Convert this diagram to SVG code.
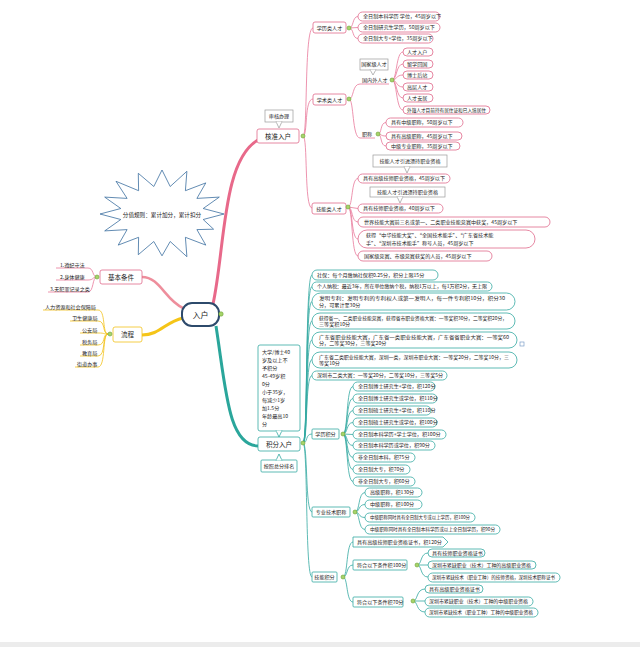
<svg xmlns="http://www.w3.org/2000/svg" width="640" height="647" viewBox="0 0 640 647">
<defs>
<style>
text{font-family:"Noto Sans CJK SC","Noto Sans",sans-serif;fill:#222;font-size:5.1px}
.big{font-size:6.5px}
.ctr{font-size:8px}
.pp{fill:#fff;stroke:#e06a8b;stroke-width:0.8}
.pt{fill:#fff;stroke:#35aaa2;stroke-width:0.8}
.cp{fill:none;stroke:#e8789a;stroke-width:0.8}
.ct{fill:none;stroke:#35aaa2;stroke-width:0.8}
.cy{fill:none;stroke:#f2c21b;stroke-width:0.8}
.co{fill:#fff;stroke:#9a9a9a;stroke-width:0.7}
.dot{fill:#a6d46a;stroke:#6c9f34;stroke-width:0.6}
</style>
</defs>
<rect width="640" height="647" fill="#fff"/>
<rect x="0" y="642" width="640" height="5" fill="#ececec"/>

<g id="connectors">
<path d="M213 304 C225 250 222 160 258 140" fill="none" stroke="#e8698a" stroke-width="3"/>
<path d="M216 326 C226 390 228 445 258 446" fill="none" stroke="#2aa69b" stroke-width="3"/>
<path d="M183 308 C165 300 160 277 142 277" fill="none" stroke="#ee8e9c" stroke-width="2.5"/>
<path d="M183 318 C165 322 160 335 142 335" fill="none" stroke="#f5c518" stroke-width="3"/>
<path class="cp" d="M97 277 C92 277 94 268 88 268 L56 268"/>
<path class="cp" d="M97 277 C92 277 94 280 88 280 L56 280"/>
<path class="cp" d="M97 277 C92 277 94 292 88 292 L48 292"/>
<path class="cy" d="M108 334 C102 334 106 310 98 310 L43 310"/>
<path class="cy" d="M108 334 C102 334 106 321 98 321 L70 321"/>
<path class="cy" d="M108 334 C102 334 106 333 98 333 L80 333"/>
<path class="cy" d="M108 334 C102 334 106 345 98 345 L80 345"/>
<path class="cy" d="M108 334 C102 334 106 356 98 356 L80 356"/>
<path class="cy" d="M108 334 C102 334 106 367 98 367 L75 367"/>
<path class="cp" d="M303 136 C308 136 304 28 313 28"/>
<path class="cp" d="M303 136 C308 136 304 99 313 99"/>
<path class="cp" d="M303 136 C308 136 304 208 312 208"/>
<path class="cp" d="M349 28 C354 28 352 16.5 358 16.5"/>
<path class="cp" d="M349 28 L358 27.5"/>
<path class="cp" d="M349 28 C354 28 352 38.5 358 38.5"/>
<path class="cp" d="M349 99 C354 99 352 84 360 84"/>
<path class="cp" d="M349 99 C354 99 352 138 360 138"/>
<path class="cp" d="M392 80 C397 80 396 52 403 52"/>
<path class="cp" d="M392 80 C397 80 396 64 403 64"/>
<path class="cp" d="M392 80 C397 80 396 75 403 75"/>
<path class="cp" d="M392 80 C397 80 396 87 403 87"/>
<path class="cp" d="M392 80 C397 80 396 98 403 98"/>
<path class="cp" d="M392 80 C397 80 396 110 403 110"/>
<path class="cp" d="M378 134 C382 134 380 122.5 386 122.5"/>
<path class="cp" d="M378 134 C382 134 380 136 386 136"/>
<path class="cp" d="M378 134 C382 134 380 146 386 146"/>
<path class="cp" d="M348 207 C353 207 351 178.5 358 178.5"/>
<path class="cp" d="M348 207 L358 208.5"/>
<path class="cp" d="M348 207 C353 207 351 222 358 222"/>
<path class="cp" d="M348 207 C353 207 351 239 358 239"/>
<path class="cp" d="M348 207 C353 207 351 256 358 256"/>
<path class="ct" d="M303 443 C308 443 305 275 312 275"/>
<path class="ct" d="M303 443 C308 443 305 286.5 312 286.5"/>
<path class="ct" d="M303 443 C308 443 305 301.5 312 301.5"/>
<path class="ct" d="M303 443 C308 443 305 321 312 321"/>
<path class="ct" d="M303 443 C308 443 305 340 312 340"/>
<path class="ct" d="M303 443 C308 443 305 359.5 312 359.5"/>
<path class="ct" d="M303 443 C308 443 305 375.5 312 375.5"/>
<path class="ct" d="M303 443 C308 443 305 434 312 434"/>
<path class="ct" d="M303 443 C308 443 305 512 312 512"/>
<path class="ct" d="M303 443 C308 443 305 577 312 577"/>
<path class="ct" d="M343 434 C348 434 346 386.5 353 386.5"/>
<path class="ct" d="M343 434 C348 434 346 398.5 353 398.5"/>
<path class="ct" d="M343 434 C348 434 346 410.5 353 410.5"/>
<path class="ct" d="M343 434 C348 434 346 422.5 353 422.5"/>
<path class="ct" d="M343 434 L353 434.5"/>
<path class="ct" d="M343 434 C348 434 346 445.5 353 445.5"/>
<path class="ct" d="M343 434 C348 434 346 457.5 353 457.5"/>
<path class="ct" d="M343 434 C348 434 346 469.5 353 469.5"/>
<path class="ct" d="M343 434 C348 434 346 481.5 353 481.5"/>
<path class="ct" d="M355 512 C360 512 358 492.5 365 492.5"/>
<path class="ct" d="M355 512 C360 512 358 504.5 365 504.5"/>
<path class="ct" d="M355 512 C360 512 358 517.5 365 517.5"/>
<path class="ct" d="M355 512 C360 512 358 529.5 365 529.5"/>
<path class="ct" d="M343 577 C348 577 346 542 353 542"/>
<path class="ct" d="M343 577 C348 577 346 565 353 565"/>
<path class="ct" d="M343 577 C348 577 346 602 353 602"/>
<path class="ct" d="M417 565 C422 565 420 553 428 553"/>
<path class="ct" d="M417 565 L428 565"/>
<path class="ct" d="M417 565 C422 565 420 577 428 577"/>
<path class="ct" d="M413 601 C418 601 416 589 425 589"/>
<path class="ct" d="M413 601 L425 601"/>
<path class="ct" d="M413 601 C418 601 416 612 425 612"/>
</g>

<g id="cloud">
<polygon points="224,214 203.2,219.5 213.6,229.2 196.9,229.6 205.8,245.1 185.4,237.3 186.9,256.7 170.2,241.5 162,255.8 153.8,241.5 138.3,254.7 138.6,237.3 118.2,245.1 127.1,229.6 104.7,230.9 120.8,219.5 100,214 120.8,208.5 104.7,197.1 127.1,198.4 116,181.3 138.6,190.7 138.3,173.3 153.8,186.5 162,170 170.2,186.5 186.9,171.3 185.4,190.7 205.8,182.9 196.9,198.4 219.3,197.1 203.2,208.5" fill="#fff" stroke="#3b6fa0" stroke-width="0.8" stroke-linejoin="round"/>
<text x="162" y="216.5" text-anchor="middle" style="font-size:5.6px">分值规则：累计加分，累计扣分</text>
</g>

<g id="n-root">
<rect x="182" y="303" width="37" height="23" rx="10" fill="#fff" stroke="#2d4a6b" stroke-width="2"/>
<text class="ctr" x="200.5" y="317.5" text-anchor="middle">入户</text>
<circle class="dot" cx="221" cy="314" r="2.2"/>
</g>

<g id="n-basic">
<rect x="100" y="270" width="42" height="14" rx="2" class="pp"/>
<text class="big" x="121" y="279.5" text-anchor="middle">基本条件</text>
<circle class="dot" cx="97" cy="277" r="2"/>
<text x="60" y="266.5">1.遵纪守法</text>
<text x="60" y="278.5">2.身体健康</text>
<text x="50" y="290.5">3.无犯罪记录之类</text>
</g>

<g id="n-process">
<rect x="113" y="327" width="29" height="15" rx="2" fill="#fff" stroke="#f2c21b" stroke-width="0.8"/>
<text class="big" x="127.5" y="337" text-anchor="middle">流程</text>
<circle class="dot" cx="110" cy="334" r="2"/>
<text x="45" y="308.5">人力资源和社会保障局</text>
<text x="72" y="319.5">卫生健康局</text>
<text x="82" y="331.5">公安局</text>
<text x="82" y="343.5">税务局</text>
<text x="82" y="354.5">教育局</text>
<text x="77" y="365.5">街道办事</text>
</g>

<g id="n-hezhun">
<rect x="265" y="110" width="28" height="12" class="co"/>
<polygon points="276,121.6 282,121.6 279,128" fill="#fff" stroke="#9a9a9a" stroke-width="0.7"/>
<line x1="276.4" y1="122" x2="281.6" y2="122" stroke="#fff" stroke-width="1"/>
<text x="279" y="118" text-anchor="middle">审核办理</text>
<rect x="257" y="129" width="42" height="14" rx="2" class="pp"/>
<text class="big" x="278" y="138.5" text-anchor="middle">核准入户</text>
<circle class="dot" cx="303" cy="136" r="2"/>
</g>

<g id="n-xueli">
<rect x="313" y="22" width="33" height="11" rx="2" class="pp"/>
<text x="329.5" y="29.5" text-anchor="middle">学历类人才</text>
<circle class="dot" cx="349" cy="28" r="2"/>
<rect x="358" y="12" width="82" height="9" rx="4.5" class="pp"/>
<text x="363" y="18.4">全日制本科学历 学位，45周岁以下</text>
<rect x="358" y="23" width="82" height="9" rx="4.5" class="pp"/>
<text x="363" y="29.4">全日制研究生学历，50周岁以下</text>
<rect x="358" y="34" width="75" height="9" rx="4.5" class="pp"/>
<text x="363" y="40.4">全日制大专+学位，35周岁以下</text>
</g>

<g id="n-jishu">
<rect x="313" y="94" width="33" height="11" rx="2" class="pp"/>
<text x="329.5" y="101.5" text-anchor="middle">学术类人才</text>
<circle class="dot" cx="349" cy="99" r="2"/>
<rect x="360" y="59" width="28" height="11" class="co"/>
<polygon points="370,69.6 376,69.6 373,75" fill="#fff" stroke="#9a9a9a" stroke-width="0.7"/>
<line x1="370.4" y1="70" x2="375.6" y2="70" stroke="#fff" stroke-width="1"/>
<text x="374" y="66.4" text-anchor="middle">国家级人才</text>
<text x="362" y="82.4">国内外人才</text>
<line class="cp" x1="360" y1="84" x2="389" y2="84"/>
<circle class="dot" cx="392" cy="80" r="2"/>
<rect x="403" y="48" width="30" height="8" rx="4" class="pp"/><text x="407" y="53.9">人才入户</text>
<rect x="403" y="60" width="30" height="8" rx="4" class="pp"/><text x="407" y="65.9">留学回国</text>
<rect x="403" y="71" width="30" height="8" rx="4" class="pp"/><text x="407" y="76.9">博士后站</text>
<rect x="403" y="83" width="30" height="8" rx="4" class="pp"/><text x="407" y="88.9">高层人才</text>
<rect x="403" y="94" width="30" height="8" rx="4" class="pp"/><text x="407" y="99.9">人才安居</text>
<rect x="403" y="106" width="87" height="8" rx="4" class="pp"/><text x="407" y="111.9" textLength="79" lengthAdjust="spacingAndGlyphs">外籍人才目前持有居住证和已入境居住</text>
<text x="362" y="136.4">职称</text>
<line class="cp" x1="360" y1="138" x2="375" y2="138"/>
<circle class="dot" cx="378" cy="134" r="2"/>
<rect x="386" y="118" width="77" height="9" rx="4.5" class="pp"/><text x="391" y="124.4">具有中级职称，50周岁以下</text>
<rect x="386" y="132" width="76" height="8" rx="4" class="pp"/><text x="391" y="137.9">具有高级职称，45周岁以下</text>
<rect x="386" y="142" width="74" height="8" rx="4" class="pp"/><text x="391" y="147.9">中级专业职称，35周岁以下</text>
</g>

<g id="n-jineng">
<rect x="312" y="203" width="34" height="11" rx="2" class="pp"/>
<text x="329" y="210.5" text-anchor="middle">技能类人才</text>
<circle class="dot" cx="348" cy="207" r="2"/>
<rect x="373" y="155" width="74" height="12" class="co"/>
<polygon points="404,166.6 410,166.6 407,173" fill="#fff" stroke="#9a9a9a" stroke-width="0.7"/>
<line x1="404.4" y1="167" x2="409.6" y2="167" stroke="#fff" stroke-width="1"/>
<text x="410" y="163" text-anchor="middle">技能人才引进须持职业资格</text>
<rect x="358" y="174" width="92" height="9" rx="4.5" class="pp"/><text x="363" y="180.4">具有高级技师职业资格，45周岁以下</text>
<rect x="370" y="187" width="75" height="10" class="co"/>
<polygon points="397,196.6 403,196.6 400,203" fill="#fff" stroke="#9a9a9a" stroke-width="0.7"/>
<line x1="397.4" y1="197" x2="402.6" y2="197" stroke="#fff" stroke-width="1"/>
<text x="407.5" y="194" text-anchor="middle">技能人才引进须持职业资格</text>
<rect x="358" y="204" width="85" height="9" rx="4.5" class="pp"/><text x="363" y="210.4">具有技师职业资格，40周岁以下</text>
<rect x="358" y="217" width="192" height="10" rx="5" class="pp"/><text x="364" y="223.9">世界技能大赛前三名或第一、二类职业技能竞赛中获奖，45周岁以下</text>
<rect x="358" y="230" width="177" height="18" rx="9" class="pp"/>
<text x="366" y="237.4">获得“中华技能大奖”、“全国技术能手”、“广东省技术能</text>
<text x="366" y="244.6">手”、“深圳市技术能手”称号人员，45周岁以下</text>
<rect x="358" y="251" width="134" height="10" rx="5" class="pp"/><text x="364" y="257.9">国家级竞赛、市级竞赛获奖的人员，45周岁以下</text>
</g>

<g id="n-jifen">
<rect x="258" y="345" width="42" height="86" rx="2" class="pt"/>
<polygon points="276,430.6 282,430.6 279,437" fill="#fff" stroke="#35aaa2" stroke-width="0.8"/>
<line x1="276.4" y1="431" x2="281.6" y2="431" stroke="#fff" stroke-width="1.2"/>
<text x="262" y="354">大学/博士40</text>
<text x="262" y="362">岁及以上不</text>
<text x="262" y="370">予积分</text>
<text x="262" y="378">45-49岁积</text>
<text x="262" y="386">0分</text>
<text x="262" y="394">小于35岁，</text>
<text x="262" y="402">每减少1岁</text>
<text x="262" y="410">加1.5分</text>
<text x="262" y="418">年龄最高10</text>
<text x="262" y="426">分</text>
<rect x="258" y="437" width="42" height="14" rx="2" class="pt"/>
<text class="big" x="279" y="446.5" text-anchor="middle">积分入户</text>
<circle class="dot" cx="303" cy="443" r="2"/>
<rect x="261" y="460" width="36" height="12" rx="1" class="pt"/>
<polygon points="276,460.4 282,460.4 279,454" fill="#fff" stroke="#35aaa2" stroke-width="0.8"/>
<line x1="276.4" y1="460" x2="281.6" y2="460" stroke="#fff" stroke-width="1.2"/>
<text x="279" y="468" text-anchor="middle">按照总分排名</text>
</g>

<g id="n-tiaomu">
<rect x="312" y="270" width="126" height="10" rx="5" class="pt"/><text x="317" y="276.9">社保：每个月缴纳社保积0.25分，积分上限15分</text>
<rect x="312" y="282" width="180" height="9" rx="4.5" class="pt"/><text x="317" y="288.4" textLength="170" lengthAdjust="spacingAndGlyphs">个人纳税：最近3年，所在单位缴纳个税，纳税1万以上，每1万积2分，无上限</text>
<rect x="312" y="293" width="203" height="17" rx="8.5" class="pt"/>
<text x="319" y="300" textLength="186" lengthAdjust="spacingAndGlyphs">发明专利：发明专利的专利权人或第一发明人，每一件专利积10分，积分30</text>
<text x="319" y="307">分，可累计至30分</text>
<rect x="312" y="313" width="203" height="16" rx="8" class="pt"/>
<text x="319" y="319.6" textLength="188" lengthAdjust="spacingAndGlyphs">获得省一、二类职业技能竞赛，获得省市职业资格大赛：一等奖积30分，二等奖积20分，</text>
<text x="319" y="326.4">三等奖积10分</text>
<rect x="312" y="332" width="205" height="16" rx="8" class="pt"/>
<text x="319" y="338.6" textLength="190" lengthAdjust="spacingAndGlyphs">广东省职业技能大赛，广东省一类职业技能大赛，广东省省职业大赛：一等奖60</text>
<text x="319" y="345.4">分，二等奖30分，三等奖20分</text>
<rect x="520" y="342" width="4" height="4" fill="#fff" stroke="#6a8fc0" stroke-width="0.6"/>
<rect x="312" y="352" width="205" height="16" rx="8" class="pt"/>
<text x="319" y="358.6" textLength="190" lengthAdjust="spacingAndGlyphs">广东省二类职业技能大赛，深圳一类，深圳市职业大赛：一等奖20分，二等奖10分，三</text>
<text x="319" y="365.4">等奖10分</text>
<rect x="312" y="371" width="135" height="9" rx="4.5" class="pt"/><text x="317" y="377.4">深圳市二类大赛：一等奖20分，二等奖10分，三等奖5分</text>
</g>

<g id="n-xuelijifen">
<rect x="312" y="429" width="27" height="10" rx="1" class="pt"/>
<text x="325.5" y="436" text-anchor="middle">学历积分</text>
<circle class="dot" cx="343" cy="434" r="2"/>
<rect x="353" y="382" width="82" height="9" rx="4.5" class="pt"/><text x="358" y="388.4">全日制博士研究生+学位，积120分</text>
<rect x="353" y="394" width="84" height="9" rx="4.5" class="pt"/><text x="358" y="400.4">全日制博士研究生或学位，积110分</text>
<rect x="353" y="406" width="78" height="9" rx="4.5" class="pt"/><text x="358" y="412.4">全日制硕士研究生+学位，积110分</text>
<rect x="353" y="418" width="84" height="9" rx="4.5" class="pt"/><text x="358" y="424.4">全日制硕士研究生或学位，积100分</text>
<rect x="353" y="430" width="93" height="9" rx="4.5" class="pt"/><text x="358" y="436.4">全日制本科学历+学士学位，积100分</text>
<rect x="353" y="441" width="82" height="9" rx="4.5" class="pt"/><text x="358" y="447.4">全日制本科学历或学位，积90分</text>
<rect x="353" y="453" width="62" height="9" rx="4.5" class="pt"/><text x="358" y="459.4">非全日制本科，积75分</text>
<rect x="353" y="465" width="57" height="9" rx="4.5" class="pt"/><text x="358" y="471.4">全日制大专，积70分</text>
<rect x="353" y="477" width="62" height="9" rx="4.5" class="pt"/><text x="358" y="483.4">非全日制大专，积60分</text>
</g>

<g id="n-zhicheng">
<rect x="312" y="507" width="38" height="10" rx="1" class="pt"/>
<text x="331" y="514" text-anchor="middle">专业技术职称</text>
<circle class="dot" cx="355" cy="512" r="2"/>
<rect x="365" y="488" width="57" height="9" rx="4.5" class="pt"/><text x="370" y="494.4">高级职称，积130分</text>
<rect x="365" y="500" width="57" height="9" rx="4.5" class="pt"/><text x="370" y="506.4">中级职称，积100分</text>
<rect x="365" y="513" width="110" height="9" rx="4.5" class="pt"/><text x="370" y="519.4" textLength="100" lengthAdjust="spacingAndGlyphs">中级职称同时具有全日制大专或以上学历，积100分</text>
<rect x="365" y="525" width="135" height="9" rx="4.5" class="pt"/><text x="370" y="531.4" textLength="125" lengthAdjust="spacingAndGlyphs">中级职称同时具有全日制本科学历或以上全日制学历，积90分</text>
</g>

<g id="n-jinengjifen">
<rect x="312" y="572" width="25" height="10" rx="1" class="pt"/>
<text x="324.5" y="579" text-anchor="middle">技能积分</text>
<circle class="dot" cx="343" cy="577" r="2"/>
<polygon points="353,537 443,537 448,542 443,547 353,547" class="pt"/>
<text x="357" y="543.9">具有高级技师职业资格证书，积120分</text>
<rect x="353" y="560" width="54" height="10" rx="1" class="pt"/>
<text x="357" y="567">符合以下条件积100分</text>
<circle class="dot" cx="417" cy="565" r="2"/>
<rect x="428" y="549" width="57" height="8" rx="4" class="pt"/><text x="432" y="554.9">具有技师职业资格证书</text>
<rect x="428" y="561" width="108" height="8" rx="4" class="pt"/><text x="432" y="566.9" textLength="99" lengthAdjust="spacingAndGlyphs">深圳市紧缺职业（技术）工种的高级职业资格</text>
<rect x="428" y="573" width="132" height="9" rx="4.5" class="pt"/><text x="432" y="579.4" textLength="123" lengthAdjust="spacingAndGlyphs">深圳市紧缺技术（职业工种）的技师资格，深圳技术职称证书</text>
<rect x="353" y="597" width="50" height="10" rx="1" class="pt"/>
<text x="357" y="604">符合以下条件积70分</text>
<circle class="dot" cx="413" cy="601" r="2"/>
<rect x="425" y="585" width="58" height="8" rx="4" class="pt"/><text x="429" y="590.9">具有高级职业资格证书</text>
<rect x="425" y="597" width="108" height="9" rx="4.5" class="pt"/><text x="429" y="603.4" textLength="99" lengthAdjust="spacingAndGlyphs">深圳市紧缺职业（技术）工种的中级职业资格</text>
<rect x="425" y="608" width="113" height="9" rx="4.5" class="pt"/><text x="429" y="614.4" textLength="104" lengthAdjust="spacingAndGlyphs">深圳市紧缺技术（职业工种）工种的中级职业资格</text>
</g>
</svg>
